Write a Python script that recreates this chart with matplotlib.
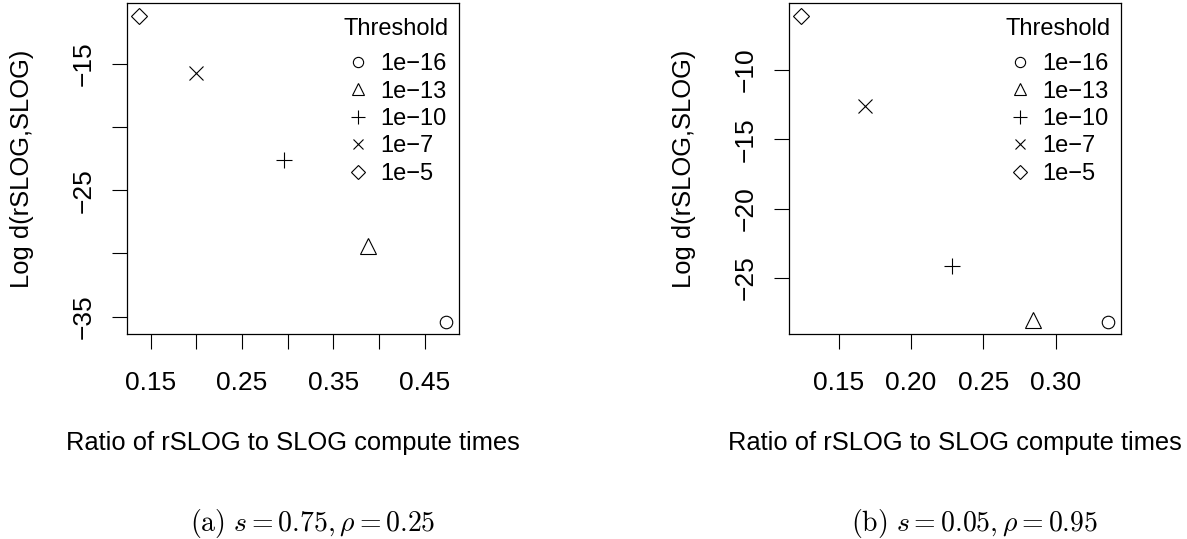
import numpy as np
import matplotlib
matplotlib.use("Agg")
import matplotlib.pyplot as plt

plt.rcParams["font.family"] = ["Liberation Sans", "DejaVu Sans"]
plt.rcParams["mathtext.fontset"] = "cm"

# thresholds and their marker shapes
thresholds = ["1e\u221216", "1e\u221213", "1e\u221210", "1e\u22127", "1e\u22125"]
markers = ["o", "^", "+", "x", "D"]
msizes = [9.0, 11.0, 12.0, 9.5, 8.6]

# (a) s = 0.75, rho = 0.25
ratio_a = [0.4738, 0.3876, 0.2960, 0.2000, 0.1372]
logd_a = [-35.43, -29.40, -22.61, -15.69, -11.16]

# (b) s = 0.05, rho = 0.95
ratio_b = [0.3366, 0.2841, 0.2286, 0.1682, 0.1239]
logd_b = [-28.18, -28.02, -24.16, -12.62, -6.06]

xticks_a = [0.15, 0.20, 0.25, 0.30, 0.35, 0.40, 0.45]
xlabels_a = ["0.15", "", "0.25", "", "0.35", "", "0.45"]
yticks_a = [-35, -30, -25, -20, -15]
ylabels_a = ["\u221235", "", "\u221225", "", "\u221215"]

xticks_b = [0.15, 0.20, 0.25, 0.30]
xlabels_b = ["0.15", "0.20", "0.25", "0.30"]
yticks_b = [-25, -20, -15, -10]
ylabels_b = ["\u221225", "\u221220", "\u221215", "\u221210"]

TICK_FS = 19
LEG_FS = 17
LAB_FS = 18.4
W, H = 1187, 539
fig = plt.figure(figsize=(W / 100, H / 100), dpi=100)


def panel(left_px, xs, ys, xt, xl, yt, yl, caption):
    ax = fig.add_axes([left_px / W, (H - 334.3) / H, 332 / W, 331 / H])
    for x, y, m, s, lab in zip(xs, ys, markers, msizes, thresholds):
        ax.plot(x, y, linestyle="none", marker=m, markersize=s,
                markerfacecolor="none", markeredgecolor="black",
                markeredgewidth=0.8, color="black", label=lab)
    ax.margins(0.04)
    ax.set_xticks(xt)
    ax.set_xticklabels(xl, fontsize=TICK_FS)
    ax.set_yticks(yt)
    ax.set_yticklabels(yl, fontsize=TICK_FS, rotation=90, va="center")
    ax.tick_params(direction="out", length=11, width=0.8, color="black")
    ax.tick_params(axis="x", pad=15.5)
    ax.tick_params(axis="y", pad=11)
    for sp in ax.spines.values():
        sp.set_linewidth(0.9)
    ax.set_xlabel("Ratio of rSLOG to SLOG compute times", fontsize=LAB_FS, va="center")
    ax.xaxis.set_label_coords(0.5, -0.328)
    ax.set_ylabel("Log d(rSLOG,SLOG)", fontsize=LAB_FS, va="center")
    ax.yaxis.set_label_coords(-0.316, 0.5)

    ax.legend(loc="upper left", bbox_to_anchor=(0.662, 0.8495), frameon=False,
              fontsize=LEG_FS, numpoints=1, markerscale=0.82,
              handlelength=1.0, handletextpad=0.42,
              borderpad=0, borderaxespad=0, labelspacing=0.23)
    ax.text(0.812, 0.922, "Threshold", transform=ax.transAxes, fontsize=LEG_FS,
            ha="center", va="center")

    fig.text((left_px + 186) / W, 1 - 523 / H, caption, fontsize=20,
             ha="center", va="center")
    return ax


panel(126.7, ratio_a, logd_a, xticks_a, xlabels_a, yticks_a, ylabels_a,
      r"$\mathrm{(a)}\ s=0.75,\rho=0.25$")
panel(788.7, ratio_b, logd_b, xticks_b, xlabels_b, yticks_b, ylabels_b,
      r"$\mathrm{(b)}\ s=0.05,\rho=0.95$")

fig.savefig("out.png", dpi=100, facecolor="white")
